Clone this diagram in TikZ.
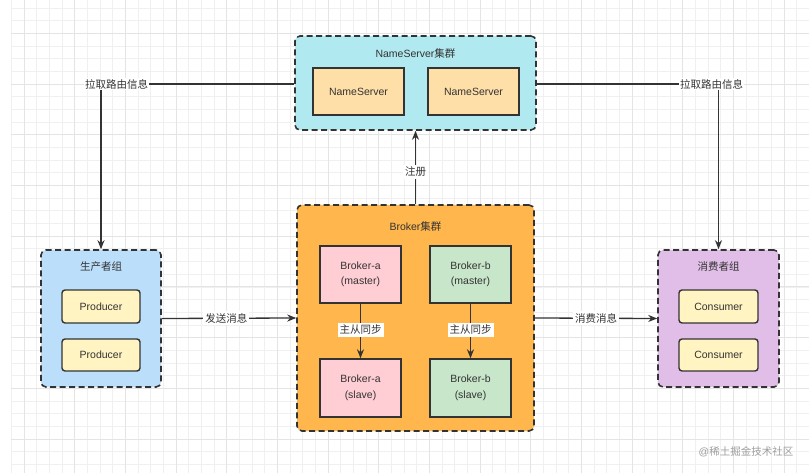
\documentclass[tikz,border=0pt]{standalone}
\usepackage{fontspec}
\setmainfont{Liberation Sans}
\newfontfamily\cjk{Noto Sans CJK SC}
\usetikzlibrary{arrows.meta}
\definecolor{linec}{HTML}{333333}
\definecolor{nsgroup}{HTML}{B0E9EF}
\definecolor{nsbox}{HTML}{FFDFA8}
\definecolor{brgroup}{HTML}{FFB74D}
\definecolor{pinkbox}{HTML}{FFCDD4}
\definecolor{greenbox}{HTML}{C8E6C9}
\definecolor{pgroup}{HTML}{BBDEFB}
\definecolor{ybox}{HTML}{FFF4C2}
\definecolor{cgroup}{HTML}{E1BEE7}
\definecolor{gridminor}{HTML}{F0F0F0}
\definecolor{gridmajor}{HTML}{E4E4E4}
\tikzset{
  every node/.style={font=\fontsize{10.5pt}{12.6pt}\selectfont, text=linec},
  group/.style={draw=linec, line width=1.6pt, dash pattern=on 6pt off 3.5pt, rounded corners=5pt, inner sep=0pt},
  sqbox/.style={draw=linec, line width=1.4pt, inner sep=0pt, align=center, font=\fontsize{10.5pt}{15.5pt}\selectfont},
  rbox/.style={draw=linec, line width=1.4pt, rounded corners=3pt, fill=ybox, inner sep=0pt},
  title/.style={inner sep=1pt},
  lab/.style={fill=white, inner sep=2pt},
  conn/.style={draw=linec, line width=1.3pt},
  arr/.style={conn, -{Stealth[length=9pt,width=7pt]}},
}
\begin{document}
\begin{tikzpicture}[x=1pt,y=-1pt]
\useasboundingbox (0,0) rectangle (809,473);
\fill[white] (0,0) rectangle (809,473);
% grid
\foreach \i in {0,...,62} {
  \pgfmathsetmacro{\xx}{11.3+12.67*\i}
  \draw[gridminor, line width=0.8pt] (\xx,0) -- (\xx,473);
}
\foreach \i in {0,...,38} {
  \pgfmathsetmacro{\yy}{-4.5+12.67*\i}
  \draw[gridminor, line width=0.8pt] (11.3,\yy) -- (809,\yy);
}
\foreach \i in {0,...,15} {
  \pgfmathsetmacro{\xx}{24+50.68*\i}
  \draw[gridmajor, line width=1pt] (\xx,0) -- (\xx,473);
}
\foreach \i in {0,...,9} {
  \pgfmathsetmacro{\yy}{33.6+50.68*\i}
  \draw[gridmajor, line width=1pt] (11.3,\yy) -- (809,\yy);
}

% NameServer cluster
\node[group, fill=nsgroup, minimum width=241pt, minimum height=94pt] (ns) at (415.5,83) {};
\node[title] (nst) at (415.5,54) {NameServer{\cjk 集群}};
\node[sqbox, fill=nsbox, minimum width=91pt, minimum height=47pt] (ns1) at (358.5,91.5) {NameServer};
\node[sqbox, fill=nsbox, minimum width=91pt, minimum height=47pt] (ns2) at (473.5,91.5) {NameServer};

% Broker cluster
\node[group, fill=brgroup, minimum width=237pt, minimum height=226pt] (br) at (415.5,318) {};
\node[title] (brt) at (415.5,227) {Broker{\cjk 集群}};
\node[sqbox, fill=pinkbox, minimum width=81pt, minimum height=57pt] (bam) at (360.5,274.5) {Broker-a\\(master)};
\node[sqbox, fill=greenbox, minimum width=81pt, minimum height=57pt] (bbm) at (470.5,274.5) {Broker-b\\(master)};
\node[sqbox, fill=pinkbox, minimum width=81pt, minimum height=58pt] (bas) at (360.5,388) {Broker-a\\(slave)};
\node[sqbox, fill=greenbox, minimum width=81pt, minimum height=58pt] (bbs) at (470.5,388) {Broker-b\\(slave)};

% Producer group
\node[group, fill=pgroup, minimum width=120pt, minimum height=137pt] (pg) at (101,318.5) {};
\node[title] (pgt) at (101,267) {\cjk 生产者组};
\node[rbox, minimum width=78pt, minimum height=33pt] (p1) at (101,306.5) {Producer};
\node[rbox, minimum width=78pt, minimum height=32pt] (p2) at (101,355) {Producer};

% Consumer group
\node[group, fill=cgroup, minimum width=121pt, minimum height=137pt] (cg) at (718.5,318.5) {};
\node[title] (cgt) at (718.5,267) {\cjk 消费者组};
\node[rbox, minimum width=79pt, minimum height=33pt] (c1) at (718.5,306.5) {Consumer};
\node[rbox, minimum width=79pt, minimum height=32pt] (c2) at (718.5,355) {Consumer};

% route labels
\node[lab, inner sep=1pt] (rl) at (116.5,84) {\cjk 拉取路由信息};
\node[lab, inner sep=1pt] (rr) at (711.5,84) {\cjk 拉取路由信息};
\draw[conn] (rl.east) -- (ns.west |- rl.east);
\draw[conn] (rr.west) -- (ns.east |- rr.west);
\draw[arr] (pg.north |- rl.south) -- (pg.north);
\draw[arr] (cg.north |- rr.south) -- (cg.north);

% register
\draw[arr] (br.north) -- node[lab, pos=0.44] (reg) {\cjk 注册} (ns.south);

% send / consume
\draw[arr] (pg.east) -- node[lab, pos=0.48] (send) {\cjk 发送消息} (br.west);
\draw[arr] (br.east) -- node[lab, pos=0.5] (cons) {\cjk 消费消息} (cg.west);

% master-slave
\draw[arr] (bam.south) -- node[lab, pos=0.48] (syna) {\cjk 主从同步} (bas.north);
\draw[arr] (bbm.south) -- node[lab, pos=0.48] (synb) {\cjk 主从同步} (bbs.north);

% watermark
\node[text=black!38, font=\fontsize{10.5pt}{12pt}\selectfont] (wm) at (746,452) {@{\cjk 稀土掘金技术社区}};
\end{tikzpicture}
\end{document}
